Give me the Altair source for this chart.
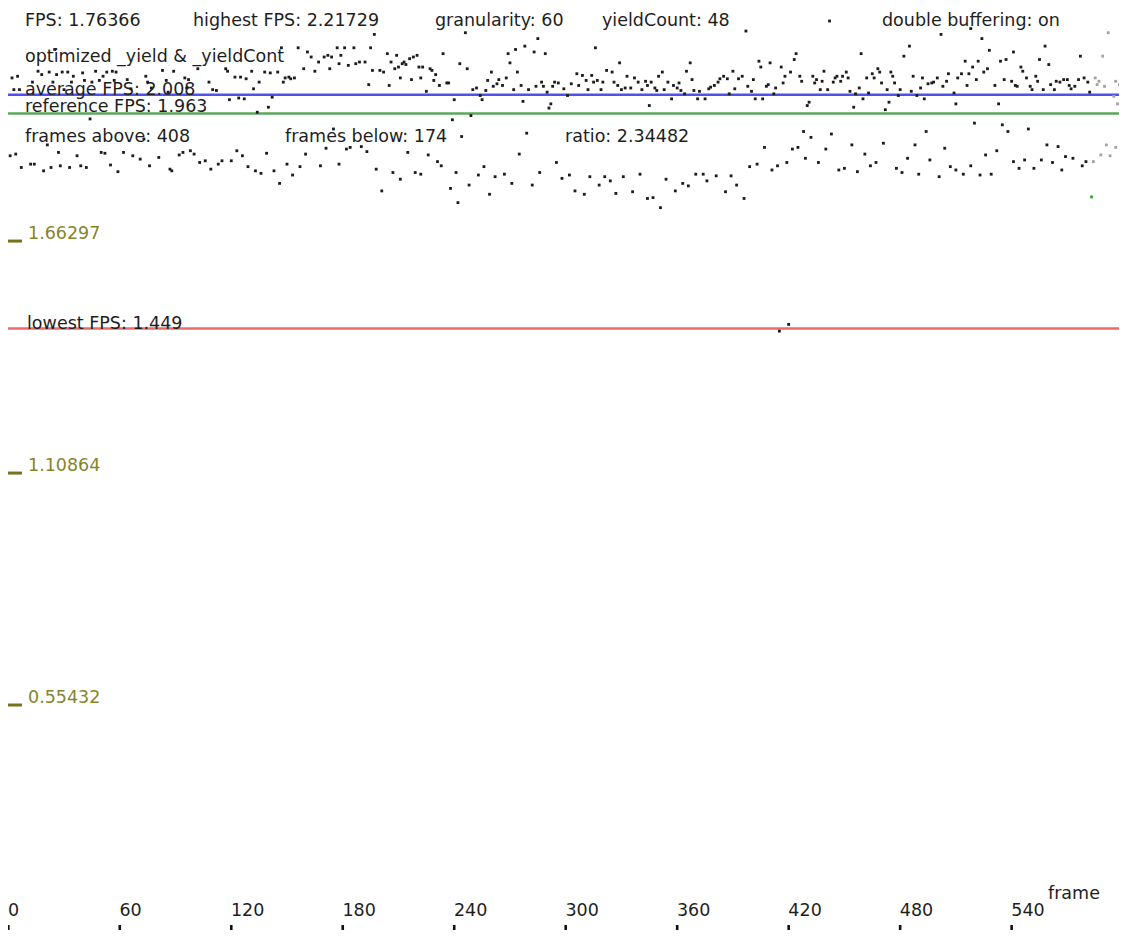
import altair as alt
import pandas as pd

# ---------------- data ----------------
current_frame = 583
current_fps = 1.76366
highest_fps = 2.21729
average_fps = 2.008
reference_fps = 1.963
lowest_fps = 1.449
granularity = 60
yield_count = 48
frames_above = 408
frames_below = 174
ratio = 2.34482

ytick_values = [0.55432, 1.10864, 1.66297]
ytick_labels = ["0.55432", "1.10864", "1.66297"]
xtick_values = [0, 60, 120, 180, 240, 300, 360, 420, 480, 540]

# (frame, fps) samples, segment by segment
seg1 = [(25, 2.116), (2, 2.048), (5, 2.052), (16, 2.064), (18, 2.056), (22, 2.062), (26, 2.056),
        (29, 2.062), (32, 2.062), (35, 2.052), (40, 2.060), (47, 2.064), (51, 2.052), (53, 2.062),
        (56, 2.064), (58, 2.062), (74, 2.052), (83, 2.066), (89, 2.064), (95, 2.048),
        (3, 2.020), (6, 2.020), (13, 2.038), (24, 2.038), (30, 2.020), (34, 2.038), (41, 2.042),
        (45, 2.038), (49, 2.042), (57, 2.042), (64, 2.044), (66, 2.022), (75, 2.038), (77, 2.024),
        (85, 2.042), (86, 2.014), (96, 2.024),
        (44, 1.950), (21, 1.888), (73, 1.902), (1, 1.862), (4, 1.866), (7, 1.834), (12, 1.842),
        (14, 1.842), (19, 1.826), (23, 1.834), (27, 1.870), (28, 1.838), (33, 1.834), (37, 1.862),
        (39, 1.838), (42, 1.834), (50, 1.870), (52, 1.868), (55, 1.840), (59, 1.824), (62, 1.870),
        (67, 1.862), (71, 1.854), (76, 1.838), (81, 1.858), (87, 1.830), (88, 1.826), (92, 1.864),
        (94, 1.870)]
seg2 = [(197, 2.152), (147, 2.120), (156, 2.120), (161, 2.110), (163, 2.098), (167, 2.086),
        (170, 2.098), (172, 2.102), (174, 2.098), (177, 2.120), (179, 2.102), (181, 2.120),
        (186, 2.120), (183, 2.078), (187, 2.082), (189, 2.086), (192, 2.086), (195, 2.120),
        (196, 2.066), (102, 2.070), (117, 2.070), (118, 2.064), (122, 2.050), (125, 2.050),
        (128, 2.046), (131, 2.064), (132, 2.022), (135, 2.038), (138, 2.062), (141, 2.060),
        (145, 2.062), (148, 2.038), (149, 2.048), (151, 2.050), (152, 2.046), (154, 2.048),
        (159, 2.070), (165, 2.064), (173, 2.070), (178, 2.082), (97, 2.044), (108, 2.038),
        (110, 2.020), (112, 2.018), (119, 1.996), (124, 2.000), (127, 1.998), (142, 2.002),
        (134, 1.966), (140, 1.978), (194, 2.032),
        (98, 1.874), (100, 1.866), (103, 1.846), (106, 1.850), (109, 1.830), (113, 1.842),
        (115, 1.850), (120, 1.850), (123, 1.874), (126, 1.862), (129, 1.836), (133, 1.826),
        (136, 1.820), (139, 1.868), (143, 1.826), (146, 1.796), (150, 1.842), (153, 1.816),
        (157, 1.836), (160, 1.866), (168, 1.838), (171, 1.880), (175, 1.926), (178, 1.842),
        (182, 1.878), (184, 1.882), (190, 1.884), (193, 1.872), (198, 1.830)]
seg3 = [(204, 2.106), (206, 2.086), (209, 2.102), (208, 2.070), (210, 2.074), (212, 2.082),
        (213, 2.086), (214, 2.080), (216, 2.094), (218, 2.098), (220, 2.102), (221, 2.074),
        (223, 2.074), (227, 2.070), (228, 2.066), (230, 2.056), (232, 2.030), (236, 2.036),
        (237, 2.036), (234, 2.106), (200, 2.066), (202, 2.062), (205, 2.030), (211, 2.048),
        (217, 2.044), (222, 2.048), (225, 2.016), (229, 2.042), (240, 1.996), (243, 2.082),
        (247, 2.070), (246, 2.156), (250, 2.020), (252, 2.024), (254, 2.006), (255, 1.996),
        (257, 2.018), (258, 2.042), (260, 2.062), (261, 2.028), (263, 2.034), (264, 2.044),
        (266, 2.030), (268, 2.048), (270, 2.084), (269, 2.106), (273, 2.116), (274, 2.062),
        (272, 2.020), (276, 2.030), (277, 1.992), (278, 2.124), (280, 2.020), (283, 2.110),
        (284, 2.028), (285, 2.142), (287, 2.038), (289, 2.106), (288, 2.028), (291, 1.976),
        (292, 1.986), (290, 2.014), (293, 2.028), (294, 2.038), (296, 2.036),
        (239, 1.948), (249, 1.958), (244, 1.908), (279, 1.916), (201, 1.778), (207, 1.822),
        (211, 1.806), (215, 1.870), (219, 1.822), (222, 1.818), (226, 1.864), (231, 1.848),
        (233, 1.838), (238, 1.784), (241, 1.822), (242, 1.750), (248, 1.792), (253, 1.816),
        (256, 1.836), (259, 1.770), (262, 1.812), (267, 1.818), (271, 1.796), (275, 1.866),
        (282, 1.792), (286, 1.822), (295, 1.846)]
seg4 = [(316, 2.120), (299, 2.022), (301, 2.006), (303, 2.034), (306, 2.058), (307, 2.030),
        (309, 2.054), (311, 2.042), (312, 2.020), (314, 2.054), (315, 2.038), (317, 2.042),
        (319, 2.020), (320, 2.038), (322, 2.066), (325, 2.062), (326, 2.038), (328, 2.030),
        (329, 2.084), (330, 2.020), (332, 2.024), (333, 2.052), (335, 2.024), (337, 2.048),
        (339, 2.038), (341, 2.020), (343, 2.040), (344, 2.030), (345, 1.982), (346, 2.038),
        (348, 2.024), (349, 2.018), (350, 2.052), (352, 2.062), (353, 2.020), (355, 2.038),
        (357, 1.998), (358, 2.030), (360, 2.024), (361, 2.036), (362, 2.018), (364, 2.010),
        (365, 2.064), (367, 2.084), (368, 2.044), (369, 2.018), (371, 1.998), (372, 2.016),
        (375, 1.998), (377, 2.022), (378, 2.026), (380, 2.030), (382, 2.038), (383, 2.046),
        (385, 2.052), (387, 2.046), (388, 2.010), (390, 2.064), (391, 2.022), (393, 2.046),
        (395, 2.052),
        (298, 1.808), (302, 1.816), (305, 1.778), (310, 1.770), (313, 1.812), (318, 1.792),
        (321, 1.812), (324, 1.802), (327, 1.772), (331, 1.812), (336, 1.776), (340, 1.818),
        (344, 1.760), (347, 1.762), (351, 1.738), (354, 1.806), (359, 1.778), (363, 1.796),
        (366, 1.790), (370, 1.818), (374, 1.818), (376, 1.802), (381, 1.814), (386, 1.776),
        (389, 1.814), (392, 1.792), (396, 1.760)]
seg5 = [(397, 2.160), (442, 2.184), (398, 2.028), (400, 2.016), (401, 2.044), (402, 1.998),
        (404, 2.088), (405, 2.074), (406, 1.998), (408, 2.028), (409, 2.032), (410, 2.084),
        (412, 2.010), (413, 2.024), (416, 2.074), (417, 2.036), (418, 2.052), (421, 2.062),
        (423, 2.092), (424, 2.106), (426, 2.052), (427, 2.040), (430, 1.982), (431, 1.990),
        (433, 2.052), (434, 2.036), (435, 2.044), (437, 2.020), (438, 2.040), (439, 2.064),
        (441, 2.020), (444, 2.038), (445, 2.048), (446, 2.052), (448, 2.040), (449, 2.052),
        (451, 2.062), (452, 2.048), (453, 2.016), (456, 2.010), (455, 1.978), (458, 2.024),
        (459, 2.106), (460, 1.998), (462, 2.048), (463, 2.012), (465, 2.058), (466, 2.048),
        (468, 2.070), (469, 2.062), (470, 2.036), (472, 1.972), (473, 2.020), (474, 1.990),
        (475, 2.062), (476, 2.052), (477, 2.036), (479, 2.006), (480, 2.020), (482, 2.100),
        (485, 2.124), (487, 2.052), (486, 2.016), (489, 2.006), (491, 2.024), (492, 2.048),
        (493, 1.998), (495, 2.034),
        (399, 1.836), (403, 1.842), (407, 1.882), (411, 1.828), (414, 1.838), (419, 1.846),
        (422, 1.878), (425, 1.882), (428, 1.920), (429, 1.856), (432, 1.906), (436, 1.846),
        (440, 1.878), (443, 1.914), (447, 1.828), (450, 1.832), (454, 1.888), (457, 1.824),
        (461, 1.866), (464, 1.838), (467, 1.846), (471, 1.892), (478, 1.832), (481, 1.822),
        (484, 1.856), (488, 1.888), (490, 1.818), (494, 1.920),
        (415, 1.443), (420, 1.459)]
seg6 = [(502, 2.152), (518, 2.166), (524, 2.142), (528, 2.114), (497, 2.036), (498, 2.038),
        (500, 2.048), (503, 2.028), (505, 2.040), (506, 2.058), (509, 2.012), (510, 1.986),
        (511, 2.048), (513, 2.058), (515, 2.088), (516, 2.030), (517, 2.058), (519, 2.074),
        (521, 2.044), (522, 2.088), (525, 2.062), (527, 2.070), (531, 2.030), (533, 1.986),
        (534, 2.088), (537, 2.092), (536, 2.044), (540, 2.040), (541, 2.110), (542, 2.030),
        (543, 2.028), (545, 2.074), (546, 2.064), (548, 2.048), (550, 2.028), (551, 2.020),
        (553, 2.052), (554, 2.040), (555, 2.092), (557, 2.020), (558, 2.124), (560, 2.080),
        (561, 2.032), (563, 2.020), (564, 2.040), (566, 2.038), (568, 2.044), (570, 2.044),
        (571, 2.030), (572, 2.022), (574, 2.028), (576, 2.044), (577, 2.100), (579, 2.048),
        (581, 2.038), (582, 2.014),
        (496, 1.852), (501, 1.812), (504, 1.880), (507, 1.836), (510, 1.828), (514, 1.818),
        (518, 1.838), (520, 1.940), (523, 1.816), (526, 1.864), (529, 1.818), (532, 1.874),
        (535, 1.936), (538, 1.920), (541, 1.848), (544, 1.832), (547, 1.852), (549, 1.926),
        (552, 1.832), (556, 1.852), (559, 1.888), (562, 1.846), (565, 1.884), (567, 1.828),
        (569, 1.860), (573, 1.856), (578, 1.838), (580, 1.848)]
# samples still on screen from the previous sweep (drawn in grey)
seg_old = [(584, 1.848), (585, 2.048), (586, 2.032), (587, 2.040), (588, 1.864), (589, 2.100),
           (590, 2.028), (591, 1.888), (592, 2.156), (593, 1.862), (595, 2.004), (596, 2.040),
           (596, 1.882), (597, 1.986), (598, 2.032), (599, 1.848)]

# ---------------- build tables ----------------
rows = []
for seg in (seg1, seg2, seg3, seg4, seg5, seg6):
    for f, v in seg:
        rows.append({"frame": f, "fps": v, "state": "past"})
for f, v in seg_old:
    rows.append({"frame": f, "fps": v, "state": "old"})
rows.append({"frame": current_frame, "fps": current_fps, "state": "current"})
samples = pd.DataFrame(rows)

W, H = 1111, 922
FONT = "DejaVu Sans"
FS = 17.5
TXT = "#1e1e1e"
OLIVE = "#85852c"

# 1.858 px per frame, 418.5 px per FPS unit
xscale = alt.Scale(domain=[-0.1615, 597.79], nice=False, zero=False)
yscale = alt.Scale(domain=[0.01195, 2.2151], nice=False, zero=False)


def X(field):
    return alt.X(field, type="quantitative", scale=xscale, axis=None)


def Y(field):
    return alt.Y(field, type="quantitative", scale=yscale, axis=None)


def fixed_text(txt, x, y, color=TXT):
    return alt.Chart(pd.DataFrame({"t": [txt]})).mark_text(
        align="left", baseline="alphabetic", font=FONT, fontSize=FS, color=color
    ).encode(x=alt.value(x), y=alt.value(y), text="t:N")


def value_text(txt, x, v, dy=0):
    return alt.Chart(pd.DataFrame({"t": [txt], "v": [v]})).mark_text(
        align="left", baseline="alphabetic", font=FONT, fontSize=FS, color=TXT, dy=dy
    ).encode(x=alt.value(x), y=Y("v"), text="t:N")


def hline(v, color):
    return alt.Chart(pd.DataFrame({"v": [v]})).mark_rule(
        color=color, strokeWidth=2.5
    ).encode(y=Y("v"), x=alt.value(0), x2=alt.value(W))


lines = [
    hline(average_fps, "#5050ee"),
    hline(reference_fps, "#5aa85a"),
    hline(lowest_fps, "#ee6a6a"),
]

dots = alt.Chart(samples).mark_square(size=8, opacity=1).encode(
    x=X("frame"),
    y=Y("fps"),
    color=alt.Color(
        "state:N",
        scale=alt.Scale(domain=["past", "current", "old"],
                        range=["#1c1c1c", "#2ea82e", "#a3a3a3"]),
        legend=None,
    ),
)

ytick_df = pd.DataFrame({"v": ytick_values, "lab": ytick_labels})
ytick_marks = alt.Chart(ytick_df).mark_rule(color="#74741f", strokeWidth=3).encode(
    y=Y("v"), x=alt.value(0), x2=alt.value(14), yOffset=alt.value(2)
)
ytick_text = alt.Chart(ytick_df).mark_text(
    align="left", baseline="alphabetic", font=FONT, fontSize=FS, color=OLIVE
).encode(x=alt.value(20), y=Y("v"), text="lab:N")

xtick_df = pd.DataFrame({"f": xtick_values, "lab": [str(v) for v in xtick_values]})
xtick_marks = alt.Chart(xtick_df).mark_rule(color="#111111", strokeWidth=2.6).encode(
    x=X("f"), y=alt.value(917), y2=alt.value(930)
)
xtick_text = alt.Chart(xtick_df).mark_text(
    align="left", baseline="alphabetic", font=FONT, fontSize=FS, color=TXT, dx=-0.3
).encode(x=X("f"), y=alt.value(908), text="lab:N")

texts = [
    fixed_text(f"FPS: {current_fps}", 17, 18),
    fixed_text(f"highest FPS: {highest_fps}", 185, 18),
    fixed_text(f"granularity: {granularity}", 427, 18),
    fixed_text(f"yieldCount: {yield_count}", 594, 18),
    fixed_text("double buffering: on", 874, 18),
    fixed_text("optimized _yield & _yieldCont", 17, 54),
    value_text(f"average FPS: {average_fps}", 17, average_fps),
    value_text(f"reference FPS: {reference_fps}", 17, reference_fps, dy=-1.5),
    fixed_text(f"frames above: {frames_above}", 17, 134),
    fixed_text(f"frames below: {frames_below}", 277, 134),
    fixed_text(f"ratio: {ratio}", 557, 134),
    value_text(f"lowest FPS: {lowest_fps}", 19, lowest_fps),
    fixed_text("frame", 1040, 891),
]

chart = alt.layer(
    *lines, dots, ytick_marks, ytick_text, xtick_marks, xtick_text, *texts
).resolve_scale(color="independent").properties(
    width=W, height=H, padding=0, autosize="none", background="white"
).configure_view(stroke=None)

chart.save("out.html", embed_options={"renderer": "svg", "actions": False})
